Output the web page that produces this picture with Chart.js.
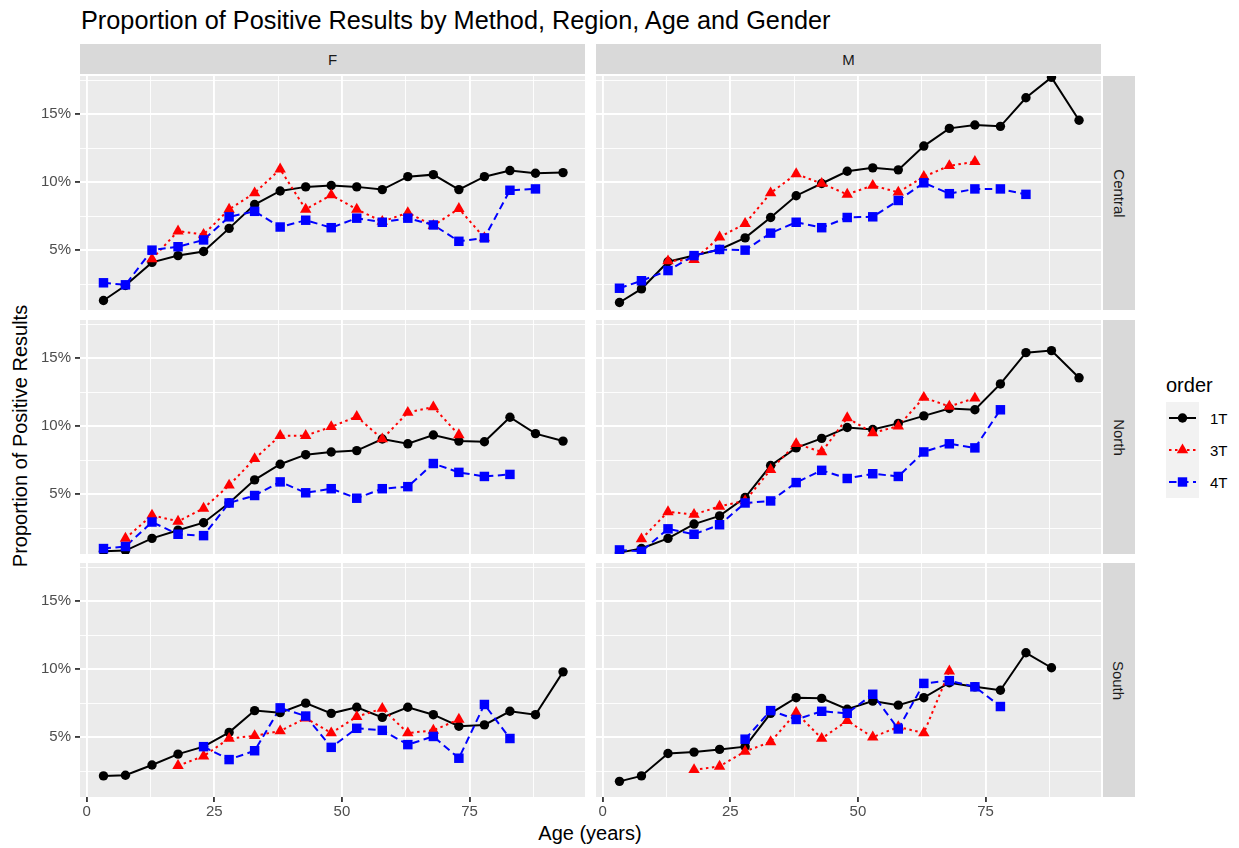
<!DOCTYPE html>
<html>
<head>
<meta charset="utf-8">
<script src="https://cdn.jsdelivr.net/npm/chart.js@4.4.0/dist/chart.umd.min.js"></script>
<style>
  body { margin: 0; background: #fff; font-family: "Liberation Sans", Arial, sans-serif; }
  #wrap { position: relative; width: 1239px; height: 848px; overflow: hidden; }
  .box { position: absolute; }
  .strip { position: absolute; background: #d9d9d9; color: #1a1a1a; font-size: 15px; display: flex; align-items: center; justify-content: center; }
  .strip.side span { display: block; transform: rotate(90deg); white-space: nowrap; }
  #title { position: absolute; left: 81px; top: 5px; font-size: 25.3px; line-height: 30px; color: #000; white-space: nowrap; }
  #ytitle { position: absolute; left: 20px; top: 436px; font-size: 20px; color: #000; white-space: nowrap; transform: translate(-50%, -50%) rotate(-90deg); }
  #xtitle { position: absolute; left: 590px; top: 833px; font-size: 20px; color: #000; white-space: nowrap; transform: translate(-50%, -50%); }
  #legend { position: absolute; left: 1166px; top: 372px; }
  #legend .ttl { font-size: 20px; color: #000; line-height: 26px; }
  #legend svg { display: block; margin-top: 4px; }
</style>
</head>
<body>
<div id="wrap">
  <div id="title">Proportion of Positive Results by Method, Region, Age and Gender</div>
  <div id="ytitle">Proportion of Positive Results</div>
  <div id="xtitle">Age (years)</div>
  <div id="legend">
    <div class="ttl">order</div>
    <svg width="70" height="96" xmlns="http://www.w3.org/2000/svg" font-family="Liberation Sans, Arial, sans-serif" font-size="15" fill="#000">
      <rect x="0" y="0" width="33" height="96" fill="#f2f2f2"/>
      <line x1="3" y1="16" x2="30" y2="16" stroke="#000" stroke-width="2"/>
      <circle cx="16.5" cy="16" r="4.7" fill="#000"/>
      <line x1="3" y1="48" x2="30" y2="48" stroke="#ff0000" stroke-width="2" stroke-dasharray="2.5,3.5"/>
      <polygon points="16.5,41.4 22.2,51.3 10.8,51.3" fill="#ff0000"/>
      <line x1="3" y1="80" x2="30" y2="80" stroke="#0000ff" stroke-width="2" stroke-dasharray="7.5,4.5"/>
      <rect x="11.8" y="75.3" width="9.4" height="9.4" fill="#0000ff"/>
      <text x="44" y="21.5">1T</text>
      <text x="44" y="53.5">3T</text>
      <text x="44" y="85.5">4T</text>
    </svg>
  </div>
</div>
<script>
  'use strict';

  // mean age of each 5-year age band (x positions)
  var ages = [3.3, 7.6, 12.8, 17.9, 22.9, 27.9, 32.9, 37.9, 42.9, 47.9, 52.9, 57.9, 62.9, 67.9, 72.9, 77.9, 82.9, 87.9, 93.3];
  var orders = ['1T', '3T', '4T'];
  var genders = ['F', 'M'];
  var regions = ['Central', 'North', 'South'];
  var xTicks = [0, 25, 50, 75];
  var yTicks = [5, 10, 15];

  // proportion positive (%), one value per age band, null = no data
  var fCentral1T = [1.3, 2.4, 4.1, 4.6, 4.9, 6.6, 8.35, 9.35, 9.65, 9.75, 9.65, 9.45, 10.4, 10.55, 9.45, 10.4, 10.85, 10.65, 10.7];
  var fCentral3T = [null, null, 4.35, 6.4, 6.15, 8.0, 9.2, 10.95, 8.0, 9.05, 8.0, 7.1, 7.75, 6.8, 8.05, 5.9, null, null, null];
  var fCentral4T = [2.6, 2.45, 5.0, 5.25, 5.75, 7.45, 7.85, 6.7, 7.2, 6.65, 7.35, 7.05, 7.35, 6.85, 5.65, 5.9, 9.4, 9.5, null];

  var mCentral1T = [1.15, 2.15, 4.15, 4.6, 5.05, 5.9, 7.4, 9.0, 9.9, 10.8, 11.05, 10.9, 12.65, 13.95, 14.2, 14.1, 16.2, 17.7, 14.55];
  var mCentral3T = [null, null, 4.2, 4.3, 5.95, 6.95, 9.2, 10.6, 9.9, 9.1, 9.75, 9.25, 10.4, 11.2, 11.5, null, null, null, null];
  var mCentral4T = [2.2, 2.75, 3.5, 4.6, 5.05, 5.0, 6.25, 7.05, 6.65, 7.4, 7.45, 8.65, 9.95, 9.15, 9.5, 9.5, 9.1, null, null];

  var fNorth1T = [0.8, 0.85, 1.75, 2.35, 2.9, 4.35, 6.05, 7.2, 7.9, 8.1, 8.2, 9.05, 8.7, 9.35, 8.9, 8.85, 10.65, 9.45, 8.9];
  var fNorth3T = [null, 1.75, 3.45, 3.0, 3.95, 5.65, 7.6, 9.3, 9.3, 9.95, 10.7, 9.05, 11.0, 11.4, 9.35, null, null, null, null];
  var fNorth4T = [1.0, 1.15, 2.95, 2.05, 1.95, 4.35, 4.9, 5.9, 5.1, 5.4, 4.7, 5.4, 5.55, 7.25, 6.6, 6.3, 6.45, null, null];

  var mNorth1T = [0.7, 1.0, 1.75, 2.8, 3.4, 4.75, 7.1, 8.4, 9.1, 9.9, 9.75, 10.2, 10.75, 11.3, 11.2, 13.1, 15.4, 15.55, 13.55];
  var mNorth3T = [null, 1.7, 3.7, 3.5, 4.1, 4.5, 6.8, 8.7, 8.1, 10.6, 9.5, 10.0, 12.1, 11.45, 12.05, null, null, null, null];
  var mNorth4T = [0.9, 0.8, 2.45, 2.05, 2.75, 4.35, 4.5, 5.85, 6.75, 6.15, 6.5, 6.3, 8.1, 8.7, 8.4, 11.2, null, null, null];

  var fSouth1T = [2.15, 2.2, 2.95, 3.75, 4.3, 5.35, 6.95, 6.8, 7.5, 6.75, 7.2, 6.45, 7.2, 6.65, 5.8, 5.9, 6.9, 6.65, 9.8];
  var fSouth3T = [null, null, null, 2.9, 3.6, 4.9, 5.1, 5.45, 6.4, 5.3, 6.5, 7.1, 5.3, 5.5, 6.3, null, null, null, null];
  var fSouth4T = [null, null, null, null, 4.3, 3.35, 4.0, 7.15, 6.55, 4.25, 5.65, 5.5, 4.45, 5.05, 3.45, 7.4, 4.9, null, null];

  var mSouth1T = [1.75, 2.15, 3.8, 3.9, 4.1, 4.3, 6.75, 7.9, 7.85, 7.05, 7.65, 7.35, 7.9, 9.0, 8.7, 8.45, 11.2, 10.1, null];
  var mSouth3T = [null, null, null, 2.6, 2.85, 3.95, 4.65, 6.8, 4.9, 6.2, 5.0, 5.75, 5.3, 9.85, null, null, null, null, null];
  var mSouth4T = [null, null, null, null, null, 4.85, 6.95, 6.3, 6.9, 6.75, 8.15, 5.6, 8.95, 9.15, 8.7, 7.25, null, null, null];

  var panelData = {
    F: { Central: [fCentral1T, fCentral3T, fCentral4T], North: [fNorth1T, fNorth3T, fNorth4T], South: [fSouth1T, fSouth3T, fSouth4T] },
    M: { Central: [mCentral1T, mCentral3T, mCentral4T], North: [mNorth1T, mNorth3T, mNorth4T], South: [mSouth1T, mSouth3T, mSouth4T] }
  };

  var styles = [
    { color: '#000000', dash: [], shape: 'circle', radius: 4.7 },
    { color: '#ff0000', dash: [2.5, 3.5], shape: 'triangle', radius: 6.6 },
    { color: '#0000ff', dash: [7.5, 4.5], shape: 'rect', radius: 6.7 }
  ];

  var FONT = '"Liberation Sans", Arial, sans-serif';
  var PANEL_X = [80, 596];
  var PANEL_W = 505;
  var PANEL_Y = [76, 320, 563];
  var PANEL_H = 234;
  var Y_AXIS_W = 80;
  var X_AXIS_H = 40;
  var X_MIN = -1.3, X_MAX = 97.6;
  var Y_MIN = 0.6, Y_MAX = 17.8;

  var wrap = document.getElementById('wrap');

  var panelBg = {
    id: 'panelBg',
    beforeDraw: function(chart) {
      var a = chart.chartArea;
      var c = chart.ctx;
      c.save();
      c.fillStyle = '#ebebeb';
      c.fillRect(a.left, a.top, a.right - a.left, a.bottom - a.top);
      c.restore();
    }
  };

  function toPoints(values) {
    return ages.map(function(a, i) {
      return values[i] == null ? null : { x: a, y: values[i] };
    }).filter(Boolean);
  }

  function isMajor(value, list) {
    return list.indexOf(Math.round(value * 100) / 100) >= 0;
  }

  function makeStrip(text, left, top, width, height, side) {
    var d = document.createElement('div');
    d.className = 'strip' + (side ? ' side' : '');
    d.style.left = left + 'px';
    d.style.top = top + 'px';
    d.style.width = width + 'px';
    d.style.height = height + 'px';
    d.innerHTML = '<span>' + text + '</span>';
    wrap.appendChild(d);
  }

  function makePanel(gender, region, col, row) {
    var showY = col === 0;
    var showX = row === regions.length - 1;
    var left = showY ? PANEL_X[col] - Y_AXIS_W : PANEL_X[col];
    var width = PANEL_W + (showY ? Y_AXIS_W : 0);
    var height = PANEL_H + (showX ? X_AXIS_H : 0);

    var box = document.createElement('div');
    box.className = 'box';
    box.style.left = left + 'px';
    box.style.top = PANEL_Y[row] + 'px';
    box.style.width = width + 'px';
    box.style.height = height + 'px';
    var canvas = document.createElement('canvas');
    canvas.width = width;
    canvas.height = height;
    box.appendChild(canvas);
    wrap.appendChild(box);

    var series = panelData[gender][region];
    var datasets = [];
    // points first so they sit on top of every line (ggplot layer order)
    for (var i = series.length - 1; i >= 0; i--) {
      datasets.push({
        label: orders[i] + ' points',
        data: toPoints(series[i]),
        showLine: false,
        pointStyle: styles[i].shape,
        pointRadius: styles[i].radius,
        pointBackgroundColor: styles[i].color,
        pointBorderWidth: 0,
        pointHoverRadius: styles[i].radius
      });
    }
    for (var k = series.length - 1; k >= 0; k--) {
      datasets.push({
        label: orders[k],
        data: toPoints(series[k]),
        borderColor: styles[k].color,
        borderWidth: 2,
        borderDash: styles[k].dash,
        pointRadius: 0,
        fill: false,
        tension: 0
      });
    }

    new Chart(canvas, {
      type: 'line',
      data: { datasets: datasets },
      plugins: [panelBg],
      options: {
        responsive: false,
        animation: false,
        devicePixelRatio: 1,
        layout: { padding: 0, autoPadding: false },
        plugins: { legend: { display: false }, tooltip: { enabled: false } },
        events: [],
        scales: {
          x: {
            type: 'linear',
            min: X_MIN,
            max: X_MAX,
            border: { display: false },
            grid: {
              color: '#ffffff',
              lineWidth: function(ctx) { return isMajor(ctx.tick.value, xTicks) ? 1.9 : 0.9; },
              drawTicks: showX,
              tickLength: 5,
              tickWidth: 1.8,
              tickColor: function(ctx) { return isMajor(ctx.tick.value, xTicks) ? '#333333' : 'rgba(0,0,0,0)'; }
            },
            ticks: {
              display: showX,
              stepSize: 12.5,
              includeBounds: false,
              autoSkip: false,
              maxRotation: 0,
              padding: 1,
              color: '#4d4d4d',
              font: { family: FONT, size: 15 },
              callback: function(v) { return isMajor(v, xTicks) ? String(v) : ''; }
            },
            afterFit: function(s) {
              s.height = showX ? X_AXIS_H : 0;
              s.paddingLeft = 0;
              s.paddingRight = 0;
            }
          },
          y: {
            type: 'linear',
            min: Y_MIN,
            max: Y_MAX,
            border: { display: false },
            grid: {
              color: '#ffffff',
              lineWidth: function(ctx) { return isMajor(ctx.tick.value, yTicks) ? 1.9 : 0.9; },
              drawTicks: showY,
              tickLength: 5,
              tickWidth: 1.8,
              tickColor: function(ctx) { return isMajor(ctx.tick.value, yTicks) ? '#333333' : 'rgba(0,0,0,0)'; }
            },
            ticks: {
              display: showY,
              stepSize: 2.5,
              includeBounds: false,
              autoSkip: false,
              padding: 4,
              color: '#4d4d4d',
              font: { family: FONT, size: 15 },
              callback: function(v) { return isMajor(v, yTicks) ? v + '%' : ''; }
            },
            afterFit: function(s) {
              s.width = showY ? Y_AXIS_W : 0;
              s.paddingTop = 0;
              s.paddingBottom = 0;
            }
          }
        }
      }
    });
  }

  genders.forEach(function(g, col) {
    makeStrip(g, PANEL_X[col], 44, PANEL_W, 30, false);
    regions.forEach(function(r, row) {
      makePanel(g, r, col, row);
    });
  });
  regions.forEach(function(r, row) {
    makeStrip(r, PANEL_X[1] + PANEL_W + 2, PANEL_Y[row], 32, PANEL_H, true);
  });
</script>
</body>
</html>
